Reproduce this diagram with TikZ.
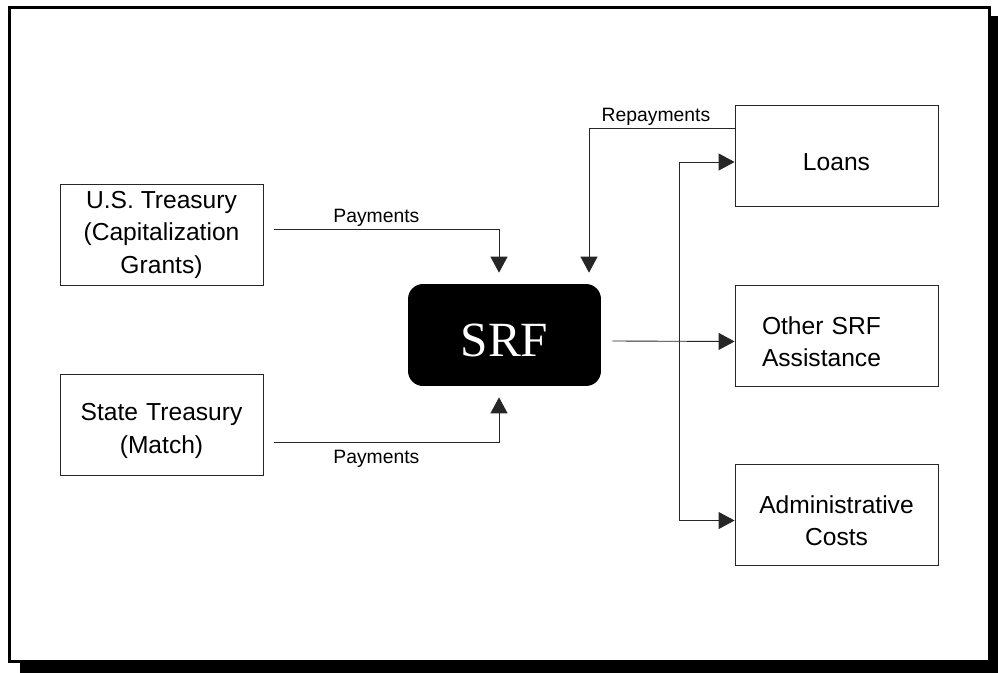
\documentclass[tikz,border=0pt]{standalone}
\usepackage{fontspec}
\setmainfont{Liberation Sans}
\newfontfamily\srffont{Liberation Serif}
\usetikzlibrary{arrows.meta,calc}

\tikzset{
    box/.style={draw=black!85, line width=0.5pt, minimum width=4.06cm, minimum height=2.02cm,
        inner sep=0pt, align=center, font=\fontsize{14}{18.5}\selectfont},
    flow/.style={draw=black!85, line width=0.5pt, -{Triangle[length=0.32cm,width=0.34cm]}},
    lbl/.style={font=\fontsize{11}{13}\selectfont, inner sep=1pt},
}

\begin{document}
\begin{tikzpicture}[x=0.02cm,y=-0.02cm]
    \useasboundingbox (0,0) rectangle (998,673);
    % Frame and shadow
    \fill (20,16) rectangle (998,673);
    \draw[fill=white,line width=0.06cm] (9.5,7.5) rectangle (989.5,661.5);
    % Sources
    \node[box] (us) at (161.5,234.5) {U.S. Treasury\\(Capitalization\\Grants)};
    \node[box,text width=3.4cm,text height=10pt,text depth=14.7pt] (state) at (161.5,425)
        {State Treasury\\(Match)};
    % Fund
    \node[fill=black, rounded corners=0.3cm, minimum width=3.86cm, minimum height=2.04cm,
        text=white, text height=24pt, text depth=0pt,
        font=\srffont\fontsize{28}{30}\selectfont] (srf) at (504.5,335) {SRF};
    % Uses
    \node[box,text height=16.8pt,text depth=0pt] (loans) at (836.5,156) {Loans};
    \node[box,align=left,text width=2.98cm,text height=10pt,text depth=11.7pt] (other)
        at (836.5,335.5) {Other SRF\\Assistance};
    \node[box,text width=3.4cm,text height=10pt,text depth=11.7pt] (admin) at (836.5,514.5)
        {Administrative\\Costs};
    % Payments into the fund
    \draw[flow] ($(us.east)+(11,-5.5)$) -| node[lbl,above,pos=0.227] (payus) {Payments}
        ($(srf.north)+(-5.5,-11)$);
    \draw[flow] ($(state.east)+(11,17)$) -| node[lbl,below=0.12cm,pos=0.227] (paystate) {Payments}
        ($(srf.south)+(-5.5,11)$);
    % Repayments
    \draw[flow] ($(loans.west)+(0,-28)$) -| node[lbl,above,pos=0.27] (repay) {Repayments}
        ($(srf.north)+(84.5,-11)$);
    % Uses of the fund
    \coordinate (split) at ($(srf.east)+(78,6)$);
    \draw[flow] ($(srf.east)+(11,6)$) -- ($(other.west)+(0,6)$);
    \draw[flow] (split) |- ($(loans.west)+(0,6)$);
    \draw[flow] (split) |- ($(admin.west)+(0,6)$);
\end{tikzpicture}
\end{document}
